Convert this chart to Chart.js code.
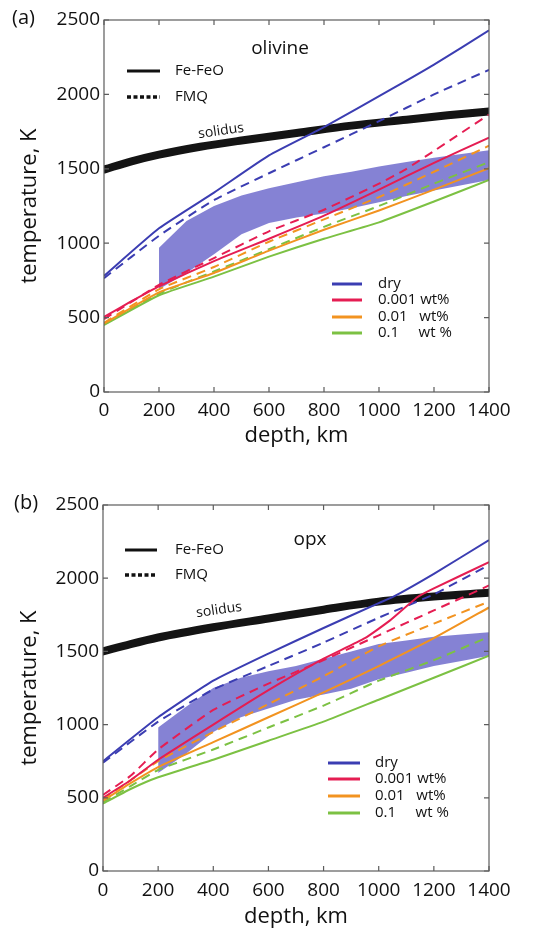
<!DOCTYPE html>
<html>
<head>
<meta charset="utf-8">
<title>Geotherms: olivine and opx</title>
<script src="https://cdn.jsdelivr.net/npm/chart.js@4.4.1/dist/chart.umd.min.js"></script>
<style>
  body { margin: 0; background: #fff; }
  .panel { position: absolute; left: 0; }
  #panelA { top: 0; }
  #panelB { top: 460px; }
</style>
</head>
<body>
<div class="panel" id="panelA"><canvas id="olivineChart" width="543" height="460"></canvas></div>
<div class="panel" id="panelB"><canvas id="opxChart" width="543" height="469"></canvas></div>
<script>
// ---- axis ticks ----
const depthTicks = [0, 200, 400, 600, 800, 1000, 1200, 1400];
const tempTicks = [0, 500, 1000, 1500, 2000, 2500];

// ---- legend text ----
const waterLabels = ['dry', '0.001 wt%', '0.01   wt%', '0.1     wt %'];
const redoxLabels = ['Fe-FeO', 'FMQ'];

// ---- (a) olivine ----
const olSolidusDepth = [0, 100, 200, 350, 500, 700, 900, 1100, 1250, 1400];
const olSolidusT     = [1495, 1550, 1595, 1648, 1690, 1740, 1790, 1830, 1860, 1885];

const olDryFeDepth  = [0, 200, 400, 600, 800, 1050, 1200, 1400];
const olDryFeT      = [780, 1100, 1340, 1590, 1780, 2040, 2200, 2430];
const olDryFmqDepth = [0, 200, 400, 600, 800, 1000, 1200, 1400];
const olDryFmqT     = [765, 1050, 1290, 1470, 1645, 1820, 2000, 2165];

const olW001FeDepth  = [0, 100, 200, 400, 600, 800, 1000, 1200, 1400];
const olW001FeT      = [505, 610, 710, 880, 1030, 1185, 1360, 1540, 1710];
const olW001FmqDepth = [0, 200, 400, 600, 800, 1000, 1100, 1200, 1400];
const olW001FmqT     = [490, 720, 900, 1080, 1225, 1400, 1500, 1620, 1865];

const olDepth    = [0, 200, 400, 600, 800, 1000, 1200, 1400];
const olW01FeT   = [460, 670, 800, 950, 1090, 1220, 1360, 1505];
const olW01FmqT  = [465, 690, 840, 1010, 1160, 1310, 1480, 1655];
const olW1FeT    = [450, 650, 775, 910, 1030, 1140, 1280, 1425];
const olW1FmqT   = [455, 660, 810, 960, 1110, 1250, 1400, 1545];

const shadeDepth = [200, 300, 400, 500, 600, 700, 800, 900, 1000, 1100, 1200, 1300, 1400];
const olShadeTop = [970, 1150, 1250, 1320, 1370, 1410, 1450, 1480, 1515, 1545, 1575, 1600, 1625];
const olShadeBot = [690, 800, 925, 1060, 1135, 1172, 1200, 1235, 1275, 1318, 1355, 1390, 1425];

// ---- (b) opx ----
const opxDepth = [0, 100, 200, 400, 600, 800, 1000, 1200, 1400];
const opxSolidusT = [1500, 1550, 1595, 1665, 1725, 1785, 1840, 1875, 1900];

const opxDryFeDepth  = [0, 200, 400, 600, 800, 1000, 1050, 1200, 1400];
const opxDryFeT      = [750, 1050, 1300, 1485, 1660, 1830, 1870, 2030, 2260];
const opxDryFmqDepth = [0, 200, 400, 600, 800, 1000, 1200, 1400];
const opxDryFmqT     = [740, 1020, 1240, 1400, 1560, 1730, 1890, 2090];

const opxW001FeDepth = [0, 100, 200, 400, 600, 800, 950, 1040, 1140, 1200, 1400];
const opxW001FeT     = [500, 620, 760, 1000, 1235, 1450, 1590, 1710, 1870, 1930, 2110];
const opxW001FmqT    = [520, 650, 830, 1100, 1280, 1440, 1610, 1780, 1950];

const opxW01FeT  = [480, 600, 710, 880, 1050, 1220, 1400, 1590, 1800];
const opxW01FmqT = [490, 620, 750, 950, 1140, 1330, 1535, 1690, 1840];
const opxW1FeT   = [460, 560, 640, 760, 890, 1020, 1170, 1320, 1470];
const opxW1FmqT  = [470, 580, 690, 830, 980, 1130, 1300, 1440, 1600];

const opxShadeTop = [980, 1120, 1250, 1320, 1365, 1400, 1450, 1500, 1550, 1575, 1600, 1615, 1630];
const opxShadeBot = [670, 800, 950, 1050, 1110, 1170, 1205, 1245, 1310, 1355, 1400, 1435, 1470];

// ---- style ----
const FONT = "'Open Sans', 'DejaVu Sans', sans-serif";
const waterColors = ['#3b3db2', '#e51d52', '#f29320', '#7cc143'];
const shadeColor = 'rgba(106, 102, 202, 0.82)';
const fmqDash = [9, 6];

const pts = (xs, ys) => xs.map((x, i) => ({ x: x, y: ys[i] }));

function curve(data, color, dashed) {
  return {
    data: data,
    borderColor: color,
    borderWidth: 2,
    borderDash: dashed ? fmqDash : [],
    pointRadius: 0,
    tension: 0.15,
    fill: false
  };
}

function buildDatasets(s) {
  const ds = [];
  // Fe-FeO (solid) and FMQ (dashed) for each water content
  s.feFeO.forEach((d, i) => ds.push(curve(d, waterColors[i], false)));
  s.fmq.forEach((d, i) => ds.push(curve(d, waterColors[i], true)));
  ds.push({
    data: s.solidus,
    borderColor: '#141414',
    borderWidth: 8,
    borderCapStyle: 'round',
    pointRadius: 0,
    cubicInterpolationMode: 'monotone',
    fill: false
  });
  // shaded band: upper edge filled down to lower edge
  ds.push({ data: s.shadeTop, borderWidth: 0, pointRadius: 0, backgroundColor: shadeColor, fill: '+1' });
  ds.push({ data: s.shadeBot, borderWidth: 0, pointRadius: 0, fill: false });
  return ds;
}

function decorPlugin(lay) {
  return {
    id: 'decor',
    afterDatasetsDraw(chart) {
      const { ctx, chartArea: a } = chart;
      const xs = chart.scales.x, ys = chart.scales.y;
      ctx.save();

      // box with inward ticks on all four sides
      ctx.strokeStyle = '#5c5c5c';
      ctx.lineWidth = 1.2;
      ctx.strokeRect(a.left, a.top, a.right - a.left, a.bottom - a.top);
      ctx.beginPath();
      xs.ticks.forEach(t => {
        const px = xs.getPixelForValue(t.value);
        ctx.moveTo(px, a.bottom); ctx.lineTo(px, a.bottom - 5);
        ctx.moveTo(px, a.top); ctx.lineTo(px, a.top + 5);
      });
      ys.ticks.forEach(t => {
        const py = ys.getPixelForValue(t.value);
        ctx.moveTo(a.left, py); ctx.lineTo(a.left + 5, py);
        ctx.moveTo(a.right, py); ctx.lineTo(a.right - 5, py);
      });
      ctx.stroke();

      ctx.fillStyle = '#111';
      ctx.textBaseline = 'middle';

      // panel tag and mineral name
      ctx.font = '20px ' + FONT;
      ctx.textAlign = 'left';
      ctx.fillText(lay.tag, lay.tagX, lay.tagY);
      ctx.font = '19px ' + FONT;
      ctx.textAlign = 'center';
      ctx.fillText(lay.mineral, lay.mineralX, lay.mineralY);

      // redox key
      ctx.font = '15px ' + FONT;
      ctx.textAlign = 'left';
      ctx.strokeStyle = '#111';
      ctx.lineWidth = 3;
      ctx.setLineDash([]);
      ctx.beginPath();
      ctx.moveTo(lay.keyX0, lay.keyY[0]); ctx.lineTo(lay.keyX1, lay.keyY[0]);
      ctx.stroke();
      ctx.lineWidth = 3.5;
      ctx.setLineDash([4, 2.5]);
      ctx.beginPath();
      ctx.moveTo(lay.keyX0, lay.keyY[1]); ctx.lineTo(lay.keyX1, lay.keyY[1]);
      ctx.stroke();
      ctx.setLineDash([]);
      redoxLabels.forEach((t, i) => ctx.fillText(t, lay.keyTextX, lay.keyY[i]));

      // solidus label along the curve
      ctx.save();
      ctx.translate(lay.solX, lay.solY);
      ctx.rotate(lay.solRot);
      ctx.font = '14px ' + FONT;
      ctx.textAlign = 'center';
      ctx.fillText('solidus', 0, 0);
      ctx.restore();

      // water-content legend
      ctx.font = '15px ' + FONT;
      ctx.textAlign = 'left';
      ctx.lineWidth = 3;
      waterLabels.forEach((t, i) => {
        ctx.strokeStyle = waterColors[i];
        ctx.beginPath();
        ctx.moveTo(lay.legX0, lay.legY[i]); ctx.lineTo(lay.legX1, lay.legY[i]);
        ctx.stroke();
        ctx.fillText(t, lay.legTextX, lay.legY[i]);
      });
      ctx.restore();
    }
  };
}

function makeChart(id, series, lay) {
  return new Chart(document.getElementById(id), {
    type: 'line',
    data: { datasets: buildDatasets(series) },
    options: {
      responsive: false,
      animation: false,
      events: [],
      layout: { padding: { top: lay.top, right: 54, left: 0, bottom: 0 } },
      plugins: { legend: { display: false }, tooltip: { enabled: false } },
      scales: {
        x: {
          type: 'linear',
          min: 0, max: 1400,
          afterBuildTicks: s => { s.ticks = depthTicks.map(v => ({ value: v })); },
          afterFit: s => { s.height = lay.xAxisHeight; },
          ticks: {
            color: '#111', font: { family: FONT, size: 19 }, padding: lay.xTickPad,
            maxRotation: 0, autoSkip: false, callback: v => String(v)
          },
          grid: { display: false, drawTicks: false },
          border: { display: false },
          title: {
            display: true, text: 'depth, km', color: '#111',
            font: { family: FONT, size: 22, lineHeight: 1.1 },
            padding: { top: 0, bottom: lay.xTitlePad }
          }
        },
        y: {
          type: 'linear',
          min: 0, max: 2500,
          afterBuildTicks: s => { s.ticks = tempTicks.map(v => ({ value: v })); },
          afterFit: s => { s.width = lay.yAxisWidth; },
          ticks: { color: '#111', font: { family: FONT, size: 19 }, padding: 4, callback: v => String(v) },
          grid: { display: false, drawTicks: false },
          border: { display: false },
          title: {
            display: true, text: 'temperature, K', color: '#111',
            font: { family: FONT, size: 22, lineHeight: 1.2 },
            padding: { top: 17, bottom: 0 }
          }
        }
      }
    },
    plugins: [decorPlugin(lay)]
  });
}

makeChart('olivineChart', {
  feFeO: [pts(olDryFeDepth, olDryFeT), pts(olW001FeDepth, olW001FeT), pts(olDepth, olW01FeT), pts(olDepth, olW1FeT)],
  fmq: [pts(olDryFmqDepth, olDryFmqT), pts(olW001FmqDepth, olW001FmqT), pts(olDepth, olW01FmqT), pts(olDepth, olW1FmqT)],
  solidus: pts(olSolidusDepth, olSolidusT),
  shadeTop: pts(shadeDepth, olShadeTop),
  shadeBot: pts(shadeDepth, olShadeBot)
}, {
  top: 20, yAxisWidth: 104, xAxisHeight: 68, xTickPad: 7, xTitlePad: 12,
  tag: '(a)', tagX: 12, tagY: 18,
  mineral: 'olivine', mineralX: 280, mineralY: 49,
  keyX0: 127, keyX1: 160, keyY: [71, 97], keyTextX: 175,
  solX: 221, solY: 131, solRot: -0.14,
  legX0: 332, legX1: 362, legY: [284, 300, 317, 333], legTextX: 378
});

makeChart('opxChart', {
  feFeO: [pts(opxDryFeDepth, opxDryFeT), pts(opxW001FeDepth, opxW001FeT), pts(opxDepth, opxW01FeT), pts(opxDepth, opxW1FeT)],
  fmq: [pts(opxDryFmqDepth, opxDryFmqT), pts(opxDepth, opxW001FmqT), pts(opxDepth, opxW01FmqT), pts(opxDepth, opxW1FmqT)],
  solidus: pts(opxDepth, opxSolidusT),
  shadeTop: pts(shadeDepth, opxShadeTop),
  shadeBot: pts(shadeDepth, opxShadeBot)
}, {
  top: 45, yAxisWidth: 103, xAxisHeight: 58, xTickPad: 8, xTitlePad: 0,
  tag: '(b)', tagX: 14, tagY: 43,
  mineral: 'opx', mineralX: 310, mineralY: 80,
  keyX0: 125, keyX1: 157, keyY: [90, 115], keyTextX: 175,
  solX: 219, solY: 150, solRot: -0.14,
  legX0: 328, legX1: 360, legY: [303, 319, 336, 353], legTextX: 375
});
</script>
</body>
</html>
